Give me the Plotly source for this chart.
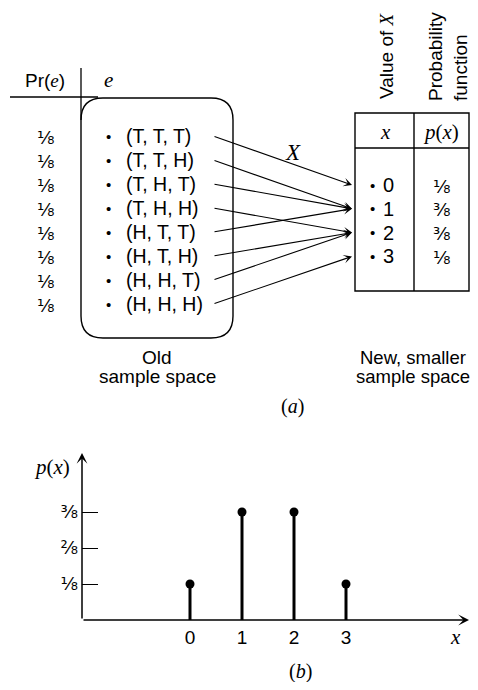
import plotly.graph_objects as go

# ---------------- data ----------------
outcomes = ["(T, T, T)", "(T, T, H)", "(T, H, T)", "(T, H, H)",
            "(H, T, T)", "(H, T, H)", "(H, H, T)", "(H, H, H)"]
outcome_prob = ["⅛", "⅛", "⅛", "⅛", "⅛", "⅛", "⅛", "⅛"]
x_of_outcome = [0, 1, 1, 2, 1, 2, 2, 3]
x_values = [0, 1, 2, 3]
px_values = [1/8, 3/8, 3/8, 1/8]
px_labels = ["⅛", "⅜", "⅜", "⅛"]
ytick_vals = [1/8, 2/8, 3/8]
ytick_text = ["⅛", "²⁄₈", "⅜"]

# ---------------- layout constants (pixel canvas of the page) ----------------
PAGE_W, PAGE_H = 478, 690
OFF = 8                                   # default body margin of the html page
W, H = PAGE_W - 2 * OFF, PAGE_H - 2 * OFF # figure size (no page overflow)
SANS = "Liberation Sans, Arial, sans-serif"
SERIF = "Liberation Serif, DejaVu Serif, serif"
FRAC = "DejaVu Sans, sans-serif"
ROW0, ROWSTEP = 136, 24.0
VAL0, VALSTEP = 185, 23.8
BOX = dict(x0=81, x1=233, y0=98, y1=338, r=22)
TAB = dict(x0=355, x1=469, xm=414, y0=113, yh=148, y1=291)

fig = go.Figure()

# ---------- bottom chart: stems + dots on real axes ----------
sx, sy = [], []
for xv, pv in zip(x_values, px_values):
    sx += [xv, xv, None]
    sy += [0, pv, None]
fig.add_trace(go.Scatter(x=sx, y=sy, mode="lines",
                         line=dict(color="black", width=3),
                         hoverinfo="skip", showlegend=False))
fig.add_trace(go.Scatter(x=x_values, y=px_values, mode="markers",
                         marker=dict(color="black", size=9),
                         hoverinfo="skip", showlegend=False))

# invisible trace to anchor the overlay canvas axes
fig.add_trace(go.Scatter(x=[100], y=[100], mode="markers", marker=dict(opacity=0),
                         xaxis="x2", yaxis="y2", hoverinfo="skip", showlegend=False))

AX_L, AX_R = 82, 469          # page-pixel x of plot area
AX_Y0, AX_TOP = 620, 455      # page-pixel y of axis / arrow top
X0PX, XSTEP = 190, 52         # page-pixel x for x=0 and per-unit step
YSTEP8 = 36                   # pixels per 1/8


def fx(px):
    return (px - OFF) / W


def fy(py):
    return 1 - (py - OFF) / H


fig.update_layout(
    width=W, height=H, margin=dict(l=0, r=0, t=0, b=0),
    paper_bgcolor="white", plot_bgcolor="rgba(0,0,0,0)",
    showlegend=False,
    xaxis=dict(domain=[fx(AX_L), fx(AX_R)],
               range=[(AX_L - X0PX) / XSTEP, (AX_R - X0PX) / XSTEP],
               showgrid=False, zeroline=False, showline=False,
               tickvals=x_values, ticktext=[str(v) for v in x_values],
               ticks="", tickfont=dict(family=SANS, size=19, color="black"),
               ticklabelstandoff=4,
               anchor="y", fixedrange=True),
    yaxis=dict(domain=[fy(AX_Y0), fy(AX_TOP)],
               range=[0, (AX_Y0 - AX_TOP) / YSTEP8 / 8],
               showgrid=False, zeroline=False, showline=False,
               tickvals=ytick_vals, ticktext=ytick_text,
               ticks="inside", ticklen=16, tickwidth=1, tickcolor="black",
               tickfont=dict(family=FRAC, size=18, color="black"),
               ticklabelstandoff=3,
               anchor="x", fixedrange=True),
    xaxis2=dict(domain=[0, 1], range=[OFF, OFF + W], visible=False, anchor="y2", fixedrange=True),
    yaxis2=dict(domain=[0, 1], range=[OFF + H, OFF], visible=False, anchor="x2", fixedrange=True),
)

shapes = []
ann = []


def text(x, y, s, size=19, family=SANS, xanchor="center", yanchor="middle", angle=0, align="center"):
    ann.append(dict(x=x, y=y, xref="x2", yref="y2", text=s, showarrow=False,
                    xanchor=xanchor, yanchor=yanchor, textangle=angle, align=align,
                    font=dict(family=family, size=size, color="black")))


def line(x0, y0, x1, y1, w=1.3):
    shapes.append(dict(type="line", xref="x2", yref="y2", x0=x0, y0=y0, x1=x1, y1=y1,
                       line=dict(color="black", width=w)))


def arrow(xs, ys, xe, ye, w=1.1, head=3, size=1.3):
    ann.append(dict(x=xe, y=ye, ax=xs, ay=ys, xref="x2", yref="y2", axref="x2", ayref="y2",
                    text="", showarrow=True, arrowhead=head, arrowsize=size, arrowwidth=w,
                    arrowcolor="black", standoff=0, startstandoff=0))


# ---------- top-left header ----------
text(45, 80, "Pr(<i><span style='font-family:Liberation Serif'>e</span></i>)", size=19)
text(108, 80, "<i>e</i>", size=21, family=SERIF)
line(10, 97, 98, 97)
line(81, 68, 81, 120)

# rounded box (old sample space)
b = BOX
r = b["r"]
path = (f"M {b['x0']+r},{b['y0']} L {b['x1']-r},{b['y0']} Q {b['x1']},{b['y0']} {b['x1']},{b['y0']+r} "
        f"L {b['x1']},{b['y1']-r} Q {b['x1']},{b['y1']} {b['x1']-r},{b['y1']} "
        f"L {b['x0']+r},{b['y1']} Q {b['x0']},{b['y1']} {b['x0']},{b['y1']-r} "
        f"L {b['x0']},{b['y0']+r} Q {b['x0']},{b['y0']} {b['x0']+r},{b['y0']} Z")
shapes.append(dict(type="path", xref="x2", yref="y2", path=path,
                   line=dict(color="black", width=1.4)))

for i, (o, p) in enumerate(zip(outcomes, outcome_prob)):
    y = ROW0 + i * ROWSTEP
    text(45, y + 1, p, size=18, family=FRAC)
    text(108, y, "•", size=15)
    text(124, y, o, size=19.5, xanchor="left")

# ---------- table (new sample space) ----------
t = TAB
shapes.append(dict(type="rect", xref="x2", yref="y2", x0=t["x0"], x1=t["x1"], y0=t["y0"], y1=t["y1"],
                   line=dict(color="black", width=1.4)))
line(t["xm"], t["y0"], t["xm"], t["y1"], 1.4)
line(t["x0"], t["yh"], t["x1"], t["yh"], 1.4)
text(385, 132, "<i>x</i>", size=21, family=SERIF)
text(441, 132, "<i>p</i>(<i>x</i>)", size=21, family=SERIF)
text(386, 56, "Value of <i><span style='font-family:Liberation Serif'>X</span></i>",
     size=19, angle=-90)
text(448, 57, "Probability<br>function", size=19, angle=-90, align="left")

for j, (v, pl) in enumerate(zip(x_values, px_labels)):
    y = VAL0 + j * VALSTEP
    text(372, y, "•", size=15)
    text(388, y, str(v), size=20)
    text(441, y + 1, pl, size=18, family=FRAC)

# ---------- mapping arrows ----------
for i, xv in enumerate(x_of_outcome):
    ys = ROW0 + i * ROWSTEP
    ye = VAL0 + x_values.index(xv) * VALSTEP
    arrow(213, ys, 352, ye)
text(293, 152, "<i>X</i>", size=23, family=SERIF)

# ---------- captions ----------
text(157, 357, "Old", size=19)
text(157, 376, "sample space", size=19)
text(413, 357, "New, smaller", size=18.5)
text(413, 376, "sample space", size=18.5)
text(292, 406, "(<i>a</i>)", size=20, family=SERIF)

# ---------- bottom chart decorations ----------
arrow(AX_L, AX_Y0, AX_L, AX_TOP - 2, w=1.5, head=3, size=1.2)
arrow(AX_L, AX_Y0, AX_R, AX_Y0, w=1.5, head=3, size=1.2)
text(52, 467, "<i>p</i>(<i>x</i>)", size=21, family=SERIF)
text(455, 637, "<i>x</i>", size=21, family=SERIF)
text(300, 671, "(<i>b</i>)", size=20, family=SERIF)

fig.update_layout(shapes=shapes, annotations=ann)
fig.write_html("out.html")
